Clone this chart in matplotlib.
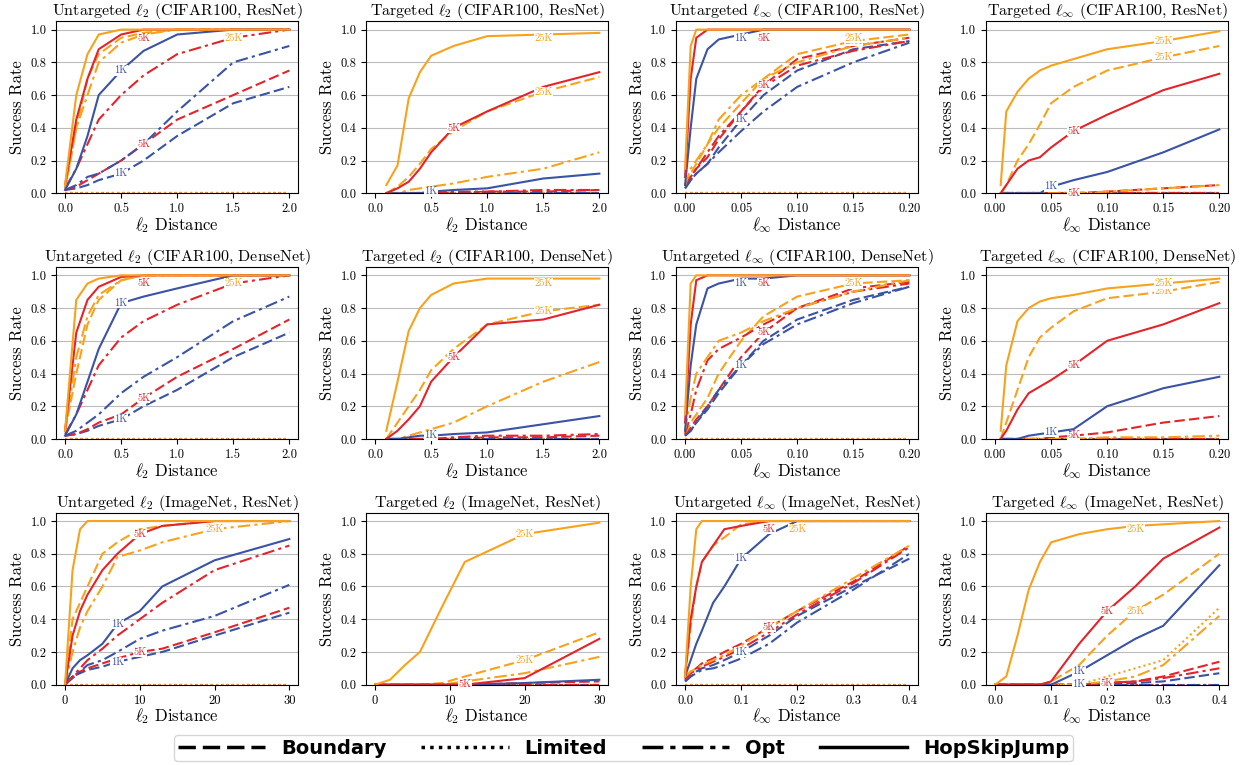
import matplotlib
matplotlib.use("Agg")
import matplotlib.pyplot as plt
from matplotlib.lines import Line2D

plt.rcParams['font.family'] = 'cmr10'
plt.rcParams['mathtext.fontset'] = 'cm'
plt.rcParams['axes.formatter.use_mathtext'] = True

C = {'1K': '#3a53a4', '5K': '#e3242b', '25K': '#f8a21c'}
LS = {'Boundary': (0, (5, 2)), 'Limited': (0, (1, 1.5)), 'Opt': (0, (6, 2, 1.5, 2)), 'HopSkipJump': '-'}

titles = [
    [r"Untargeted $\ell_2$ (CIFAR100, ResNet)", r"Targeted $\ell_2$ (CIFAR100, ResNet)",
     r"Untargeted $\ell_\infty$ (CIFAR100, ResNet)", r"Targeted $\ell_\infty$ (CIFAR100, ResNet)"],
    [r"Untargeted $\ell_2$ (CIFAR100, DenseNet)", r"Targeted $\ell_2$ (CIFAR100, DenseNet)",
     r"Untargeted $\ell_\infty$ (CIFAR100, DenseNet)", r"Targeted $\ell_\infty$ (CIFAR100, DenseNet)"],
    [r"Untargeted $\ell_2$ (ImageNet, ResNet)", r"Targeted $\ell_2$ (ImageNet, ResNet)",
     r"Untargeted $\ell_\infty$ (ImageNet, ResNet)", r"Targeted $\ell_\infty$ (ImageNet, ResNet)"],
]

x_l2c = [0, 0.1, 0.2, 0.3, 0.5, 0.7, 1.0, 1.5, 2.0]
x_tl2c = [0.1, 0.2, 0.3, 0.4, 0.5, 0.7, 1.0, 1.5, 2.0]
x_linfc = [0, 0.005, 0.01, 0.02, 0.03, 0.05, 0.07, 0.1, 0.15, 0.2]
x_tlinfc = [0.005, 0.01, 0.02, 0.03, 0.04, 0.05, 0.07, 0.1, 0.15, 0.2]
x_l2i = [0, 1, 2, 3, 5, 7, 10, 13, 20, 30]
x_tl2i = [0, 2, 4, 6, 9, 12, 20, 30]
x_linfi = [0, 0.01, 0.02, 0.03, 0.05, 0.07, 0.1, 0.15, 0.2, 0.3, 0.4]
x_tlinfi = [0, 0.02, 0.04, 0.06, 0.08, 0.1, 0.15, 0.2, 0.25, 0.3, 0.4]

p00 = {
 ('HopSkipJump', '25K'): [0.05, 0.6, 0.85, 0.97, 1, 1, 1, 1, 1],
 ('HopSkipJump', '5K'): [0.05, 0.45, 0.7, 0.88, 0.97, 1, 1, 1, 1],
 ('HopSkipJump', '1K'): [0.02, 0.15, 0.35, 0.6, 0.75, 0.87, 0.97, 1, 1],
 ('Opt', '25K'): [0.03, 0.4, 0.6, 0.8, 0.92, 0.97, 1, 1, 1],
 ('Opt', '5K'): [0.03, 0.15, 0.3, 0.45, 0.6, 0.72, 0.85, 0.95, 1.0],
 ('Opt', '1K'): [0.02, 0.05, 0.1, 0.12, 0.2, 0.3, 0.5, 0.8, 0.9],
 ('Boundary', '25K'): [0.02, 0.4, 0.7, 0.85, 0.95, 0.98, 1, 1, 1],
 ('Boundary', '5K'): [0.02, 0.04, 0.08, 0.12, 0.2, 0.3, 0.45, 0.6, 0.75],
 ('Boundary', '1K'): [0.02, 0.03, 0.05, 0.08, 0.12, 0.2, 0.35, 0.55, 0.65],
}
p01 = {
 ('HopSkipJump', '25K'): [0.05, 0.17, 0.58, 0.74, 0.84, 0.9, 0.96, 0.97, 0.98],
 ('HopSkipJump', '5K'): [0, 0.03, 0.07, 0.15, 0.25, 0.4, 0.5, 0.65, 0.74],
 ('HopSkipJump', '1K'): [0, 0, 0, 0, 0.01, 0.02, 0.03, 0.09, 0.12],
 ('Opt', '25K'): [0, 0, 0.02, 0.03, 0.04, 0.06, 0.1, 0.15, 0.25],
 ('Opt', '5K'): [0, 0, 0, 0, 0, 0.01, 0.01, 0.02, 0.02],
 ('Boundary', '25K'): [0, 0.04, 0.1, 0.18, 0.27, 0.38, 0.5, 0.62, 0.71],
 ('Boundary', '5K'): [0, 0, 0, 0, 0, 0, 0.01, 0.01, 0.02],
}
p02 = {
 ('HopSkipJump', '25K'): [0.15, 0.9, 1, 1, 1, 1, 1, 1, 1, 1],
 ('HopSkipJump', '5K'): [0.1, 0.7, 0.95, 1, 1, 1, 1, 1, 1, 1],
 ('HopSkipJump', '1K'): [0.05, 0.4, 0.7, 0.88, 0.94, 0.97, 1, 1, 1, 1],
 ('Opt', '25K'): [0.05, 0.15, 0.2, 0.3, 0.45, 0.6, 0.7, 0.8, 0.9, 0.95],
 ('Opt', '5K'): [0.05, 0.1, 0.15, 0.25, 0.35, 0.5, 0.65, 0.78, 0.87, 0.93],
 ('Opt', '1K'): [0.03, 0.08, 0.12, 0.18, 0.25, 0.38, 0.5, 0.65, 0.8, 0.92],
 ('Boundary', '25K'): [0.05, 0.12, 0.18, 0.3, 0.4, 0.55, 0.7, 0.85, 0.93, 0.97],
 ('Boundary', '5K'): [0.05, 0.1, 0.15, 0.22, 0.33, 0.5, 0.66, 0.82, 0.9, 0.95],
 ('Boundary', '1K'): [0.03, 0.08, 0.12, 0.18, 0.28, 0.45, 0.6, 0.75, 0.88, 0.93],
}
p03 = {
 ('HopSkipJump', '25K'): [0.05, 0.5, 0.62, 0.7, 0.75, 0.78, 0.82, 0.88, 0.93, 0.99],
 ('HopSkipJump', '5K'): [0, 0.05, 0.15, 0.2, 0.22, 0.28, 0.38, 0.48, 0.63, 0.73],
 ('HopSkipJump', '1K'): [0, 0, 0, 0, 0, 0.04, 0.08, 0.13, 0.25, 0.39],
 ('Boundary', '25K'): [0, 0.05, 0.2, 0.3, 0.42, 0.55, 0.65, 0.75, 0.83, 0.9],
 ('Boundary', '5K'): [0, 0, 0, 0, 0, 0, 0, 0.01, 0.03, 0.05],
 ('Opt', '25K'): [0, 0, 0, 0, 0, 0, 0, 0.01, 0.03, 0.05],
}
p10 = {
 ('HopSkipJump', '25K'): [0.05, 0.85, 0.95, 0.98, 1, 1, 1, 1, 1],
 ('HopSkipJump', '5K'): [0.05, 0.65, 0.85, 0.93, 0.99, 1, 1, 1, 1],
 ('HopSkipJump', '1K'): [0.02, 0.15, 0.35, 0.55, 0.83, 0.87, 0.92, 1, 1],
 ('Opt', '25K'): [0.05, 0.5, 0.75, 0.88, 0.97, 1, 1, 1, 1],
 ('Opt', '5K'): [0.03, 0.15, 0.3, 0.45, 0.62, 0.72, 0.82, 0.95, 1.0],
 ('Opt', '1K'): [0.02, 0.05, 0.1, 0.15, 0.28, 0.38, 0.5, 0.72, 0.87],
 ('Boundary', '25K'): [0.05, 0.4, 0.7, 0.85, 0.97, 1, 1, 1, 1],
 ('Boundary', '5K'): [0.02, 0.03, 0.06, 0.1, 0.15, 0.25, 0.38, 0.55, 0.73],
 ('Boundary', '1K'): [0.02, 0.03, 0.05, 0.08, 0.12, 0.2, 0.3, 0.5, 0.65],
}
p11 = {
 ('HopSkipJump', '25K'): [0.05, 0.35, 0.66, 0.8, 0.88, 0.95, 0.98, 0.98, 0.98],
 ('HopSkipJump', '5K'): [0, 0.05, 0.12, 0.2, 0.35, 0.5, 0.7, 0.73, 0.82],
 ('HopSkipJump', '1K'): [0, 0, 0.01, 0.02, 0.02, 0.03, 0.04, 0.09, 0.14],
 ('Opt', '25K'): [0, 0, 0.02, 0.04, 0.06, 0.1, 0.2, 0.35, 0.47],
 ('Opt', '5K'): [0, 0, 0, 0, 0, 0.01, 0.02, 0.02, 0.03],
 ('Boundary', '25K'): [0, 0.1, 0.2, 0.3, 0.42, 0.55, 0.7, 0.78, 0.82],
 ('Boundary', '5K'): [0, 0, 0, 0, 0, 0, 0.01, 0.01, 0.02],
}
p12 = {
 ('HopSkipJump', '25K'): [0.15, 0.95, 1, 1, 1, 1, 1, 1, 1, 1],
 ('HopSkipJump', '5K'): [0.1, 0.7, 0.97, 1, 1, 1, 1, 1, 1, 1],
 ('HopSkipJump', '1K'): [0.05, 0.45, 0.7, 0.92, 0.95, 0.98, 0.98, 1, 1, 1],
 ('Opt', '25K'): [0.05, 0.25, 0.4, 0.5, 0.6, 0.65, 0.72, 0.8, 0.9, 0.97],
 ('Opt', '5K'): [0.03, 0.15, 0.3, 0.48, 0.55, 0.62, 0.7, 0.8, 0.9, 0.95],
 ('Opt', '1K'): [0.02, 0.05, 0.1, 0.2, 0.3, 0.45, 0.58, 0.7, 0.83, 0.93],
 ('Boundary', '25K'): [0.03, 0.1, 0.15, 0.25, 0.4, 0.6, 0.75, 0.87, 0.95, 0.97],
 ('Boundary', '5K'): [0.02, 0.07, 0.12, 0.2, 0.3, 0.5, 0.65, 0.8, 0.92, 0.96],
 ('Boundary', '1K'): [0.02, 0.05, 0.1, 0.18, 0.28, 0.45, 0.6, 0.73, 0.85, 0.93],
}
p13 = {
 ('HopSkipJump', '25K'): [0.05, 0.45, 0.72, 0.8, 0.84, 0.86, 0.88, 0.92, 0.95, 0.98],
 ('HopSkipJump', '5K'): [0, 0.05, 0.18, 0.28, 0.32, 0.36, 0.45, 0.6, 0.7, 0.83],
 ('HopSkipJump', '1K'): [0, 0, 0, 0.02, 0.03, 0.04, 0.06, 0.2, 0.31, 0.38],
 ('Boundary', '25K'): [0, 0.1, 0.3, 0.5, 0.62, 0.68, 0.78, 0.86, 0.9, 0.96],
 ('Boundary', '5K'): [0, 0, 0, 0, 0, 0.01, 0.02, 0.04, 0.1, 0.14],
 ('Opt', '25K'): [0, 0, 0, 0, 0, 0, 0, 0.01, 0.01, 0.02],
}
p20 = {
 ('HopSkipJump', '25K'): [0, 0.7, 0.95, 1, 1, 1, 1, 1, 1, 1],
 ('HopSkipJump', '5K'): [0, 0.3, 0.45, 0.55, 0.7, 0.8, 0.92, 0.97, 1, 1],
 ('HopSkipJump', '1K'): [0, 0.1, 0.15, 0.18, 0.25, 0.37, 0.45, 0.6, 0.76, 0.89],
 ('Opt', '25K'): [0, 0.2, 0.35, 0.45, 0.6, 0.78, 0.82, 0.87, 0.95, 1],
 ('Opt', '5K'): [0, 0.05, 0.1, 0.15, 0.22, 0.3, 0.4, 0.5, 0.7, 0.85],
 ('Opt', '1K'): [0, 0.04, 0.08, 0.12, 0.15, 0.2, 0.28, 0.33, 0.42, 0.61],
 ('Boundary', '25K'): [0, 0.4, 0.5, 0.6, 0.8, 0.87, 0.95, 0.97, 1, 1],
 ('Boundary', '5K'): [0, 0.05, 0.08, 0.1, 0.13, 0.16, 0.2, 0.22, 0.32, 0.47],
 ('Boundary', '1K'): [0, 0.05, 0.07, 0.09, 0.11, 0.14, 0.17, 0.2, 0.3, 0.44],
}
p21 = {
 ('HopSkipJump', '25K'): [0, 0.03, 0.12, 0.2, 0.48, 0.75, 0.92, 0.99],
 ('HopSkipJump', '5K'): [0, 0, 0, 0, 0, 0, 0.04, 0.28],
 ('HopSkipJump', '1K'): [0, 0, 0, 0, 0, 0, 0.01, 0.03],
 ('Opt', '25K'): [0, 0, 0, 0, 0, 0.02, 0.07, 0.17],
 ('Boundary', '25K'): [0, 0, 0, 0, 0.01, 0.05, 0.15, 0.32],
 ('Boundary', '5K'): [0, 0, 0, 0, 0, 0, 0.01, 0.02],
}
p22 = {
 ('HopSkipJump', '25K'): [0.05, 0.6, 0.95, 1, 1, 1, 1, 1, 1, 1, 1],
 ('HopSkipJump', '5K'): [0.05, 0.4, 0.6, 0.75, 0.85, 0.95, 0.97, 1, 1, 1, 1],
 ('HopSkipJump', '1K'): [0.05, 0.15, 0.25, 0.33, 0.5, 0.6, 0.77, 0.92, 1, 1, 1],
 ('Boundary', '25K'): [0.05, 0.35, 0.6, 0.75, 0.85, 0.9, 0.98, 1, 1, 1, 1],
 ('Opt', '25K'): [0.05, 0.08, 0.1, 0.12, 0.15, 0.18, 0.24, 0.35, 0.45, 0.65, 0.85],
 ('Opt', '5K'): [0.03, 0.07, 0.09, 0.11, 0.14, 0.17, 0.22, 0.32, 0.43, 0.62, 0.84],
 ('Opt', '1K'): [0.02, 0.05, 0.07, 0.09, 0.1, 0.12, 0.16, 0.25, 0.38, 0.58, 0.8],
 ('Boundary', '5K'): [0.03, 0.08, 0.1, 0.13, 0.16, 0.2, 0.25, 0.35, 0.45, 0.63, 0.85],
 ('Boundary', '1K'): [0.02, 0.05, 0.08, 0.1, 0.12, 0.15, 0.2, 0.3, 0.42, 0.6, 0.77],
}
p23 = {
 ('HopSkipJump', '25K'): [0, 0.05, 0.3, 0.58, 0.75, 0.87, 0.92, 0.95, 0.97, 0.98, 1],
 ('HopSkipJump', '5K'): [0, 0, 0, 0, 0, 0.02, 0.25, 0.45, 0.6, 0.77, 0.96],
 ('HopSkipJump', '1K'): [0, 0, 0, 0, 0, 0, 0.08, 0.18, 0.28, 0.36, 0.73],
 ('Boundary', '25K'): [0, 0, 0, 0, 0, 0.02, 0.12, 0.3, 0.45, 0.55, 0.8],
 ('Limited', '25K'): [0, 0, 0, 0, 0, 0, 0, 0.05, 0.1, 0.15, 0.47],
 ('Opt', '25K'): [0, 0, 0, 0, 0, 0, 0, 0.02, 0.05, 0.12, 0.42],
 ('Boundary', '5K'): [0, 0, 0, 0, 0, 0, 0, 0.01, 0.02, 0.05, 0.14],
 ('Opt', '5K'): [0, 0, 0, 0, 0, 0, 0, 0.01, 0.02, 0.04, 0.1],
 ('Boundary', '1K'): [0, 0, 0, 0, 0, 0, 0, 0, 0.01, 0.02, 0.07],
}

panels = [[(x_l2c, p00), (x_tl2c, p01), (x_linfc, p02), (x_tlinfc, p03)],
          [(x_l2c, p10), (x_tl2c, p11), (x_linfc, p12), (x_tlinfc, p13)],
          [(x_l2i, p20), (x_tl2i, p21), (x_linfi, p22), (x_tlinfi, p23)]]
xticks = [[0, 0.5, 1.0, 1.5, 2.0], [0, 0.05, 0.10, 0.15, 0.20], [0, 10, 20, 30], [0, 0.1, 0.2, 0.3, 0.4]]
xfmt = ['%.1f', '%.2f', '%d', '%.1f']
label_frac = {'1K': 0.55, '5K': 0.65, '25K': 0.8}

fig, axes = plt.subplots(3, 4, figsize=(12.47, 7.65), dpi=100)
fig.subplots_adjust(left=0.045, right=0.985, top=0.972, bottom=0.105, hspace=0.43, wspace=0.28)

for r in range(3):
    for c in range(4):
        ax = axes[r, c]
        xs, d = panels[r][c]
        for m in ['Boundary', 'Limited', 'Opt', 'HopSkipJump']:
            for b in ['1K', '5K', '25K']:
                ys = d.get((m, b), [0] * len(xs))
                ax.plot(xs, ys, color=C[b], ls=LS[m], lw=1.5)
                if m in ('HopSkipJump', 'Boundary') and max(ys) > 0.03:
                    i = int(len(xs) * label_frac[b])
                    ax.text(xs[i], min(ys[i], 0.95), b, color=C[b], fontsize=7.5, ha='center', va='center',
                            bbox=dict(fc='white', ec='none', pad=0.2))
        ax.set_ylim(0, 1.05)
        ax.set_yticks([0, 0.2, 0.4, 0.6, 0.8, 1.0])
        ax.set_yticklabels(['0.0', '0.2', '0.4', '0.6', '0.8', '1.0'])
        if c < 2:
            k = 0 if r < 2 else 2
            lab = r"$\ell_2$ Distance"
        else:
            k = 1 if r < 2 else 3
            lab = r"$\ell_\infty$ Distance"
        ax.set_xticks(xticks[k])
        ax.set_xticklabels([xfmt[k] % v for v in xticks[k]])
        span = xticks[k][-1]
        ax.set_xlim(-0.04 * span, 1.04 * span)
        ax.grid(axis='y', color='#bbbbbb', lw=0.8)
        ax.set_axisbelow(True)
        ax.tick_params(labelsize=9)
        ax.set_title(titles[r][c], fontsize=11.5, pad=3)
        ax.set_xlabel(lab, fontsize=12, labelpad=0)
        ax.set_ylabel('Success Rate', fontsize=12)

handles = [Line2D([], [], color='black', ls=LS[m], lw=2.5) for m in ['Boundary', 'Limited', 'Opt', 'HopSkipJump']]
fig.legend(handles, ['Boundary', 'Limited', 'Opt', 'HopSkipJump'], loc='lower center', ncol=4,
           bbox_to_anchor=(0.5, -0.008), frameon=True, handlelength=4.5, columnspacing=1.8,
           borderpad=0.2, prop={'family': 'DejaVu Sans', 'weight': 'bold', 'size': 14})
fig.savefig('out.png', dpi=100)
